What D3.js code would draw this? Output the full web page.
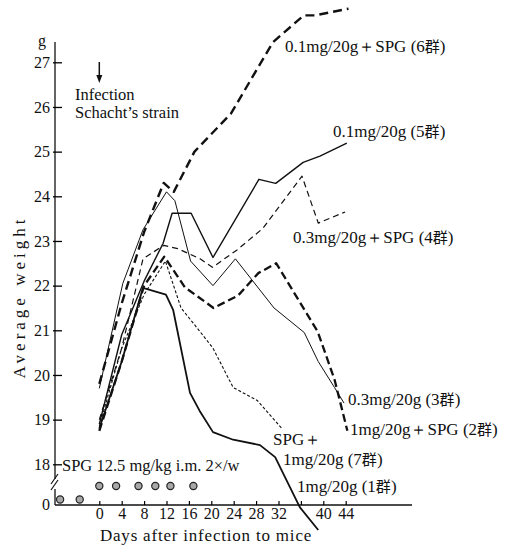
<!DOCTYPE html>
<html>
<head>
<meta charset="utf-8">
<script src="https://cdn.jsdelivr.net/npm/d3@7"></script>
<style>
  body { margin: 0; background: #fff; }
  svg text { font-family: "Liberation Serif", "Times New Roman", Times, "DejaVu Serif", serif; fill: #111; }
  svg text tspan.cjk, svg text.cjk { font-family: "Noto Sans CJK JP", sans-serif; }
</style>
</head>
<body>
<div id="chart"></div>
<script>
var width = 515,
    height = 549;

// days after infection / average weight (g) for each group
var days1 = [0, 4, 7.8, 11.9, 13.2, 16.2, 17.9, 20.3, 23.9, 28.7, 31.4, 35.8, 39.1],
    weight1 = [18.8, 20.3, 21.95, 21.8, 21.45, 19.6, 19.2, 18.72, 18.55, 18.43, 18.16, 17.04, 16.53];
var days2 = [0, 4, 8, 11.6, 15.3, 20.4, 24.8, 28.4, 31.6, 39, 42, 44.3],
    weight2 = [18.75, 20.3, 22.0, 22.65, 21.96, 21.5, 21.78, 22.28, 22.5, 20.97, 19.9, 18.75];
var days3 = [0, 4.2, 7.8, 12, 13.5, 16.3, 20.3, 24.3, 31.2, 36.6, 39.1, 42, 43.7],
    weight3 = [19.7, 22.05, 23.25, 24.1, 23.9, 22.55, 22.0, 22.6, 21.5, 20.95, 20.3, 19.72, 19.37];
var days4 = [0, 4, 7.8, 11.5, 14, 18, 20.2, 24.6, 29.2, 36.2, 39.1, 43.9],
    weight4 = [19.0, 20.6, 22.6, 22.9, 22.83, 22.6, 22.41, 22.8, 23.28, 24.45, 23.4, 23.65];
var days5 = [0, 4, 8, 11.4, 13, 16.4, 20.3, 28.5, 31.5, 36.4, 39.4, 44.2],
    weight5 = [18.9, 20.9, 22.1, 22.95, 23.62, 23.62, 22.63, 24.38, 24.29, 24.76, 24.9, 25.19];
var days6 = [0, 4, 8, 11.5, 13.3, 17, 23.5, 31, 36.5, 38.5, 44.5],
    weight6 = [19.8, 21.6, 23.2, 24.3, 24.1, 25.0, 25.85, 27.45, 28.05, 28.05, 28.2];
var days7 = [0, 4, 8, 11.8, 14.6, 17.8, 20.3, 23.9, 28.2, 32.6],
    weight7 = [18.85, 20.6, 21.8, 22.55, 21.5, 21.0, 20.6, 19.72, 19.43, 18.8];

// SPG injection days (before and after infection)
var spgDays = [-7, -3.5, 0, 3, 7, 10, 12.7, 16.8];

var yTicks = [18, 19, 20, 21, 22, 23, 24, 25, 26, 27];
var xTicks = [0, 4, 8, 12, 16, 20, 24, 28, 32, 36, 40, 44];

// label text split as [latin part, group number part]
var groupLabels = [
  [["0.1mg/20g＋SPG (6", "群", ")"]],
  [["0.1mg/20g (5", "群", ")"]],
  [["0.3mg/20g＋SPG (4", "群", ")"]],
  [["0.3mg/20g (3", "群", ")"]],
  [["1mg/20g＋SPG (2", "群", ")"]],
  [["SPG＋"], ["1mg/20g (7", "群", ")"]],
  [["1mg/20g (1", "群", ")"]]
];

var x = d3.scaleLinear().domain([0, 44]).range([99.3, 345.7]);
var y = d3.scaleLinear().domain([18, 27]).range([464.3, 62.3]);
var axisY = 505, axisX = 55;

var svg = d3.select("#chart").append("svg")
    .attr("width", width)
    .attr("height", height);

// y axis with break
svg.append("line").attr("x1", axisX).attr("x2", axisX).attr("y1", 42).attr("y2", 479)
    .attr("stroke", "#111").attr("stroke-width", 1.3);
svg.append("line").attr("x1", axisX).attr("x2", axisX).attr("y1", 489).attr("y2", axisY)
    .attr("stroke", "#111").attr("stroke-width", 1.3);
[0, 6].forEach(function(o) {
  svg.append("line").attr("x1", axisX - 4).attr("x2", axisX + 3)
      .attr("y1", 484 + o).attr("y2", 474 + o)
      .attr("stroke", "#111").attr("stroke-width", 1.2);
});

var yAxis = svg.append("g")
    .attr("transform", "translate(" + axisX + ",0)")
    .call(d3.axisLeft(y).tickValues(yTicks).tickSize(-7).tickPadding(12).tickFormat(d3.format("d")));
yAxis.attr("font-family", null);
yAxis.select(".domain").remove();
yAxis.selectAll("text").style("font-size", "16px").attr("x", -5);
yAxis.selectAll("line").attr("x1", -2).attr("stroke-width", 1.3);

svg.append("text").attr("x", 50).attr("y", axisY + 5).attr("text-anchor", "end")
    .style("font-size", "16px").text("0");
svg.append("text").attr("x", 42).attr("y", 46).attr("text-anchor", "middle")
    .style("font-size", "16px").text("g");

// x axis
svg.append("line").attr("x1", axisX).attr("x2", 412).attr("y1", axisY).attr("y2", axisY)
    .attr("stroke", "#111").attr("stroke-width", 1.3);
var xAxis = svg.append("g")
    .attr("transform", "translate(0," + axisY + ")")
    .call(d3.axisBottom(x).tickValues(xTicks).tickSize(-4).tickPadding(8)
      .tickFormat(function(d) { return d === 36 ? "" : d; }));
xAxis.attr("font-family", null);
xAxis.select(".domain").remove();
xAxis.selectAll("text").style("font-size", "16px").attr("dy", "0.72em").attr("y", 2);
xAxis.selectAll("line").attr("stroke-width", 1.2);

svg.append("text")
    .attr("x", 206).attr("y", 541).attr("text-anchor", "middle")
    .style("font-size", "17px").style("letter-spacing", "0.8px")
    .text("Days after infection to mice");

svg.append("text")
    .attr("transform", "translate(25,297) rotate(-90)")
    .attr("text-anchor", "middle")
    .style("font-size", "17px").style("letter-spacing", "4px")
    .text("Average  weight");

// infection arrow
svg.append("line").attr("x1", x(0)).attr("x2", x(0)).attr("y1", 62).attr("y2", 78)
    .attr("stroke", "#111").attr("stroke-width", 1.5);
svg.append("path")
    .attr("d", "M" + (x(0) - 3) + ",75 L" + x(0) + ",83 L" + (x(0) + 3) + ",75 Z")
    .attr("fill", "#111");
svg.append("text").attr("x", 75).attr("y", 100).style("font-size", "16.5px").text("Infection");
svg.append("text").attr("x", 75).attr("y", 118).style("font-size", "16.5px").text("Schacht’s strain");

svg.append("text").attr("x", 62).attr("y", 471).style("font-size", "16.5px")
    .text("SPG 12.5 mg/kg i.m. 2×/w");

// SPG doses
svg.selectAll("circle.spg")
    .data(spgDays)
    .enter().append("circle")
    .attr("class", "spg")
    .attr("cx", function(d) { return x(d); })
    .attr("cy", function(d) { return d < 0 ? 499.5 : 486; })
    .attr("r", 3.6)
    .attr("fill", "#a8a8a8")
    .attr("stroke", "#222")
    .attr("stroke-width", 1.2);

// series
var series = [
  { days: days1, w: weight1, width: 1.8, dash: null },
  { days: days2, w: weight2, width: 2.3, dash: "8,4" },
  { days: days3, w: weight3, width: 1.0, dash: null },
  { days: days4, w: weight4, width: 1.2, dash: "6,4" },
  { days: days5, w: weight5, width: 1.4, dash: null },
  { days: days6, w: weight6, width: 2.4, dash: "9,5" },
  { days: days7, w: weight7, width: 1.1, dash: "3,2" }
];

var line = d3.line()
    .x(function(d) { return x(d[0]); })
    .y(function(d) { return y(d[1]); });

svg.selectAll("path.series")
    .data(series)
    .enter().append("path")
    .attr("class", "series")
    .attr("d", function(s) { return line(d3.zip(s.days, s.w)); })
    .attr("fill", "none")
    .attr("stroke", "#111")
    .attr("stroke-width", function(s) { return s.width; })
    .attr("stroke-dasharray", function(s) { return s.dash; })
    .attr("stroke-linejoin", "round");

// group labels
var labelPos = [[285, 52], [333, 137], [293, 243], [348, 405], [350, 435], [273, 445], [297, 492]];
groupLabels.forEach(function(rows, i) {
  var t = svg.append("text")
      .attr("x", labelPos[i][0]).attr("y", labelPos[i][1])
      .style("font-size", "17px");
  rows.forEach(function(parts, j) {
    parts.forEach(function(s, k) {
      var sp = t.append("tspan").text(s);
      if (k === 0) sp.attr("x", labelPos[i][0] + (j ? 10 : 0)).attr("dy", j ? 20 : 0);
      if (k === 1) sp.attr("class", "cjk").style("font-size", "15px");
    });
  });
});
</script>
</body>
</html>
